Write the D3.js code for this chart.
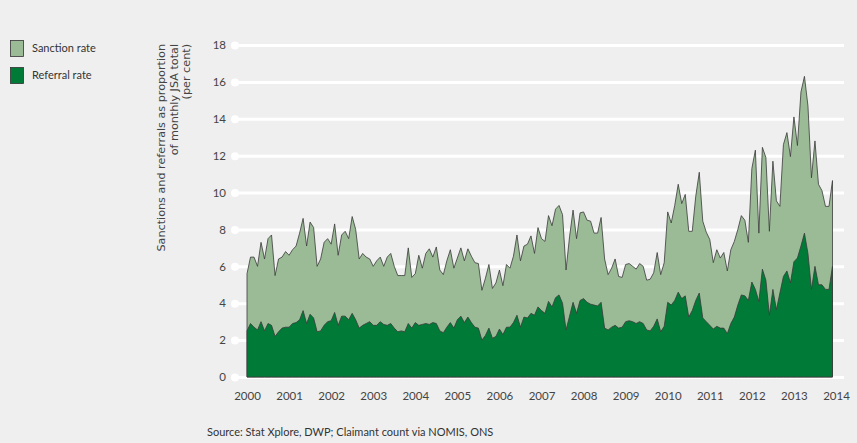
<!DOCTYPE html>
<html>
<head>
<meta charset="utf-8">
<script src="https://cdn.jsdelivr.net/npm/d3@7"></script>
<style>
  html, body { margin: 0; padding: 0; background: #efefef; }
  svg { display: block; }
</style>
</head>
<body>
<div id="chart"></div>
<script>
// DATA (monthly, Jan 2000 - Dec 2013, per cent of monthly JSA total)
var startYear = 2000;
var sanctionRate = [
  5.6, 6.5, 6.5, 6.0, 7.3, 6.4, 7.5, 7.7, 5.5, 6.4, 6.5, 6.8,
  6.6, 6.9, 7.1, 7.8, 8.6, 7.1, 8.4, 8.1, 6.0, 6.4, 7.3, 7.5,
  7.2, 8.3, 6.6, 7.7, 7.9, 7.5, 8.7, 8.0, 6.4, 6.7, 6.5, 6.4,
  6.0, 6.3, 6.5, 6.0, 6.5, 6.7, 6.0, 5.5, 5.5, 5.5, 7.0, 5.4,
  5.6, 6.6, 5.9, 6.7, 6.95, 6.5, 7.05, 5.8, 5.55, 6.3, 6.9, 5.9,
  6.45, 7.0, 6.3, 6.95, 6.55, 6.2, 6.15, 4.7, 5.35, 6.1, 4.8, 5.1,
  5.8, 4.95, 6.1, 5.9, 6.55, 7.7, 6.3, 7.1, 7.2, 7.65, 6.7, 8.1,
  7.5, 7.35, 8.75, 8.2, 9.1, 9.3, 8.8, 5.8, 7.6, 9.05, 7.5, 8.9,
  8.95, 8.5, 8.45, 7.8, 7.8, 8.65, 6.4, 5.55, 5.9, 6.4, 5.45, 5.4,
  6.1, 6.15, 6.0, 5.85, 6.15, 6.0, 5.25, 5.3, 5.65, 6.75, 5.55, 6.2,
  8.95, 8.35, 9.3, 10.45, 9.4, 9.9, 7.9, 7.9, 9.8, 11.1, 8.45, 7.85,
  7.45, 6.2, 6.9, 6.45, 6.75, 5.75, 6.9, 7.35, 8.0, 8.75, 8.5, 7.3,
  11.3, 12.3, 7.8, 12.45, 11.9, 7.9, 11.7, 9.55, 9.25, 12.6, 13.25, 11.95,
  14.1, 12.55, 15.45, 16.3, 14.7, 10.8, 12.8, 10.45, 10.1, 9.25, 9.25, 10.65
];
var referralRate = [
  2.5, 2.9, 2.7, 2.55, 3.0, 2.5, 2.9, 2.8, 2.2, 2.45, 2.65, 2.7,
  2.7, 2.9, 2.95, 3.1, 3.6, 2.9, 3.4, 3.2, 2.45, 2.5, 2.8, 3.0,
  3.05, 3.5, 2.8, 3.3, 3.3, 3.1, 3.45, 3.1, 2.65, 2.8, 2.9, 3.0,
  2.8, 2.8, 3.0, 2.85, 2.8, 2.9, 2.65, 2.45, 2.5, 2.45, 2.9, 2.65,
  2.95, 2.8, 2.85, 2.9, 2.85, 2.95, 2.9, 2.5, 2.4, 2.7, 2.95, 2.65,
  3.1, 3.3, 2.95, 3.25, 2.95, 2.7, 2.65, 2.0, 2.25, 2.65, 2.1, 2.2,
  2.6, 2.3, 2.7, 2.7, 2.95, 3.35, 2.7, 3.25, 3.2, 3.45, 3.35, 3.8,
  3.6, 3.45, 4.1, 3.8, 4.3, 4.45, 4.0, 2.55, 3.3, 4.05, 3.45, 4.15,
  4.25, 4.05, 3.95, 3.9, 3.85, 4.05, 2.65, 2.55, 2.7, 2.8, 2.65, 2.7,
  3.0, 3.05, 3.0, 2.9, 3.0, 2.9, 2.55, 2.5, 2.75, 3.15, 2.45, 2.75,
  4.05, 3.9, 4.15, 4.6, 4.25, 4.4, 3.25, 3.6, 4.15, 4.55, 3.2, 3.0,
  2.8, 2.6, 2.75, 2.65, 2.65, 2.35, 2.9, 3.25, 3.9, 4.45, 4.4, 4.15,
  5.15, 4.75, 4.1, 5.85, 5.25, 3.35, 4.75, 3.65, 4.55, 5.45, 5.75, 5.1,
  6.25, 6.45, 7.1, 7.8, 6.7, 4.75, 6.0, 5.0, 5.0, 4.75, 4.75, 6.0
];
var yearTicks = [2000, 2001, 2002, 2003, 2004, 2005, 2006, 2007, 2008, 2009, 2010, 2011, 2012, 2013, 2014];
var valueTicks = [0, 2, 4, 6, 8, 10, 12, 14, 16, 18];
var legendLabels = ["Sanction rate", "Referral rate"];
var yTitleLines = ["Sanctions and referrals as proportion", "of monthly JSA total", "(per cent)"];
var sourceText = "Source: Stat Xplore, DWP; Claimant count via NOMIS, ONS";

// COLORS and FONTS
var fontFamily = "Lato, 'Open Sans', sans-serif";
var sanctionColor = "#9bbb96";
var referralColor = "#007a37";
var lineColor = "#3a3a3a";
var textColor = "#444";

var W = 857, H = 443;
var svg = d3.select("#chart").append("svg")
  .attr("width", W)
  .attr("height", H);

svg.append("rect").attr("width", W).attr("height", H).attr("fill", "#efefef");

var x = d3.scaleLinear().domain([2000, 2014]).range([247, 836]);
var y = d3.scaleLinear().domain([0, 18]).range([377, 45]);

var rows = sanctionRate.map(function(s, i) {
  return { date: startYear + i / 12, sanction: s, referral: referralRate[i] };
});

// grid + y labels
var gridLeft = 235, gridRight = 844;
var yAxis = svg.append("g")
  .attr("transform", `translate(${gridLeft},0)`)
  .call(d3.axisLeft(y).tickValues(valueTicks).tickSize(-(gridRight - gridLeft)).tickPadding(9));
yAxis.select(".domain").remove();
yAxis.selectAll(".tick line").attr("stroke", "#ffffff").attr("stroke-width", 3);
yAxis.selectAll(".tick").append("circle").attr("r", 4).attr("fill", "#ffffff");
yAxis.selectAll(".tick text")
  .attr("font-family", fontFamily)
  .attr("font-size", 11.5)
  .attr("fill", textColor);

// areas
var sanctionArea = d3.area()
  .x(function(d) { return x(d.date); })
  .y0(y(0))
  .y1(function(d) { return y(d.sanction); });
var referralArea = d3.area()
  .x(function(d) { return x(d.date); })
  .y0(y(0))
  .y1(function(d) { return y(d.referral); });

svg.append("path").datum(rows)
  .attr("d", sanctionArea)
  .attr("fill", sanctionColor)
  .attr("stroke", lineColor)
  .attr("stroke-width", 0.8);
svg.append("path").datum(rows)
  .attr("d", referralArea)
  .attr("fill", referralColor)
  .attr("stroke", lineColor)
  .attr("stroke-width", 0.8);

// x axis
var xAxis = svg.append("g")
  .attr("transform", `translate(0,${y(0)})`)
  .call(d3.axisBottom(x).tickValues(yearTicks).tickSize(0).tickPadding(15).tickFormat(d3.format("d")));
xAxis.select(".domain").remove();
xAxis.selectAll(".tick text")
  .attr("font-family", fontFamily)
  .attr("font-size", 11.5)
  .attr("fill", textColor);

// y title
var yTitle = svg.append("text")
  .attr("transform", "translate(165,44) rotate(-90)")
  .attr("text-anchor", "end")
  .attr("font-family", "'DejaVu Sans', Verdana, sans-serif")
  .attr("font-size", 11.2)
  .attr("fill", textColor);
yTitleLines.forEach(function(line, i) {
  yTitle.append("tspan").attr("x", 0).attr("y", i * 12.6).text(line);
});

// legend
var legendColors = [sanctionColor, referralColor];
legendLabels.forEach(function(label, i) {
  var g = svg.append("g").attr("transform", `translate(10,${40 + i * 27})`);
  g.append("rect")
    .attr("x", 0.5).attr("y", 0.5)
    .attr("width", 13).attr("height", 16)
    .attr("fill", legendColors[i])
    .attr("stroke", "#333")
    .attr("stroke-width", 0.8);
  g.append("text")
    .attr("x", 22).attr("y", 12)
    .attr("font-family", fontFamily)
    .attr("font-size", 11)
    .attr("fill", "#333")
    .text(label);
});

// source
svg.append("text")
  .attr("x", 207).attr("y", 436)
  .attr("font-family", fontFamily)
  .attr("font-size", 11)
  .attr("fill", "#333")
  .text(sourceText);
</script>
</body>
</html>
